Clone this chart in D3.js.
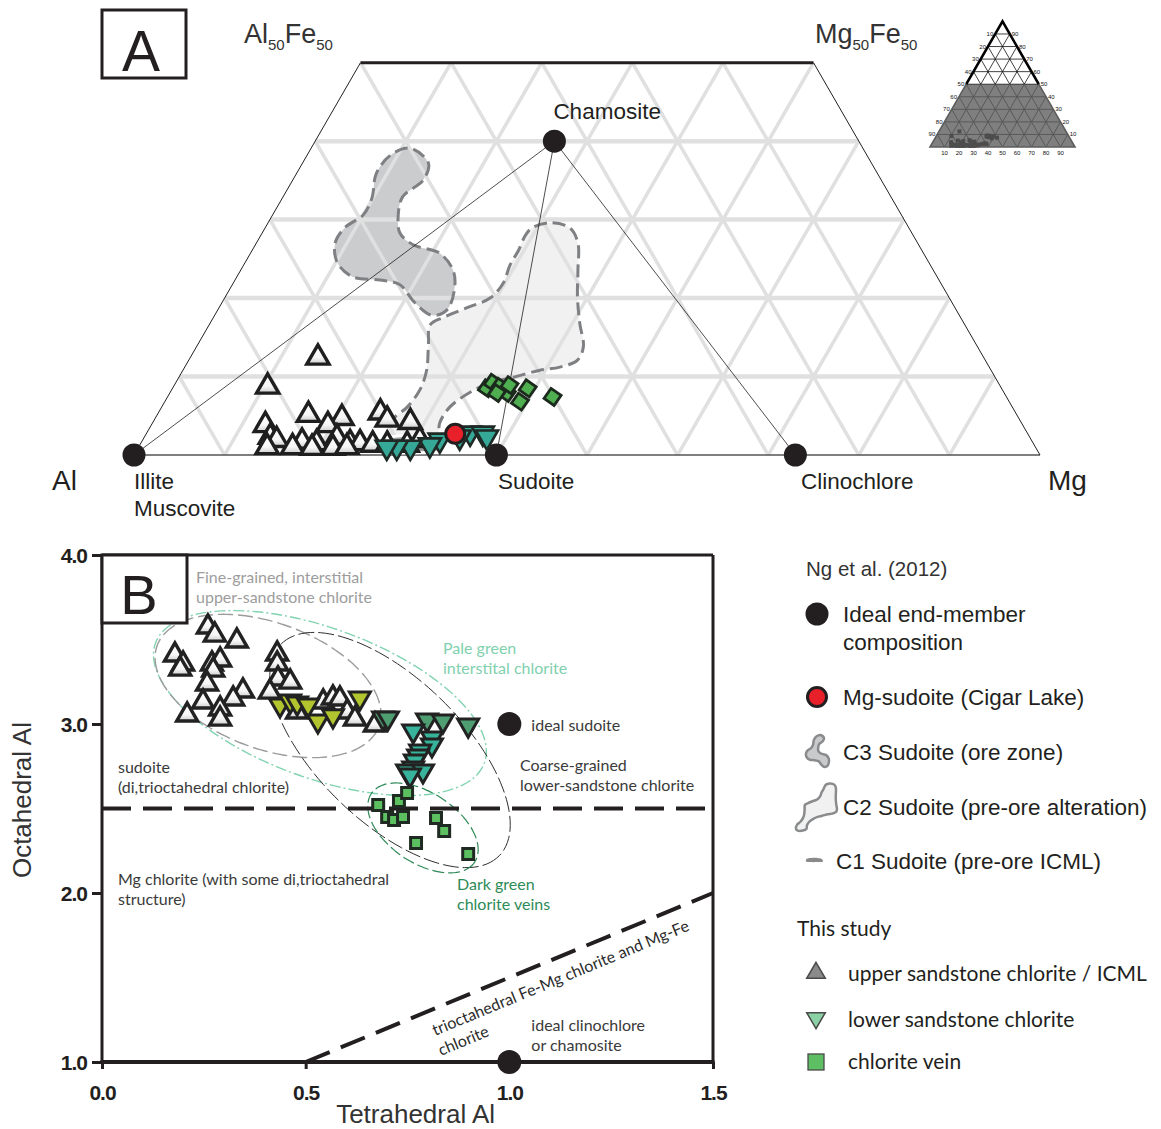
<!DOCTYPE html>
<html>
<head>
<meta charset="utf-8">
<script src="https://cdn.jsdelivr.net/npm/d3@7"></script>
<style>
  body { margin: 0; background: #fff; }
  svg { display: block; }
  .arial { font-family: "Liberation Sans", Arial, sans-serif; }
  .myriad { font-family: Lato, "Open Sans", sans-serif; }
</style>
</head>
<body>
<svg id="fig" width="1161" height="1129"></svg>
<script>
// ================= Panel A data: Al–Mg–Fe compositions as [Mg %, Fe %] (Al = 100 − Mg − Fe)
const endMembers = [
  { name: "Illite", mg: 0, fe: 0 },
  { name: "Sudoite", mg: 40, fe: 0 },
  { name: "Clinochlore", mg: 73, fe: 0 },
  { name: "Chamosite", mg: 26.4, fe: 40 }
];
const tieLines = [["Chamosite", "Illite"], ["Chamosite", "Sudoite"], ["Chamosite", "Clinochlore"]];
const cigarLake = [[34.1, 2.7]];

// Ng et al. (2012) sudoite fields
const c3Outline = [
  [10.9, 39.1], [13.9, 37.2], [14.4, 35.0], [13.2, 32.9], [14.0, 30.3], [15.2, 28.3], [17.4, 26.8],
  [20.9, 25.7], [23.4, 23.6], [24.7, 21.4], [25.3, 18.5], [24.0, 17.8], [21.3, 19.4], [18.5, 21.7],
  [16.0, 22.3], [12.8, 22.7], [10.2, 24.5], [8.7, 27.0], [8.8, 29.0], [10.0, 30.6], [9.9, 32.7],
  [8.8, 35.9], [9.2, 38.2]
];
const c2Outline = [
  [29.5, 29.0], [31.4, 29.6], [33.7, 28.9], [35.5, 27.0], [37.2, 23.6], [38.9, 20.1], [40.8, 16.8],
  [42.7, 13.8], [42.9, 12.1], [41.4, 11.2], [39.4, 10.8], [36.9, 9.9], [34.7, 9.2], [33.1, 8.0],
  [31.8, 6.1], [31.7, 4.1], [32.5, 1.9], [31.1, 0.9], [28.4, 0.9], [27.0, 1.9], [26.3, 4.5],
  [27.1, 6.1], [27.4, 8.3], [26.9, 10.8], [25.5, 14.0], [24.4, 16.6], [25.5, 17.6], [27.6, 18.9],
  [29.3, 20.0], [29.8, 21.9], [29.4, 24.2], [29.4, 26.1], [29.2, 28.0]
];
const c1Outline = [
  [25.7, 1.9], [27.6, 2.4], [30.4, 2.4], [32.5, 1.9], [33.7, 0.6], [31.4, 0.3], [28.1, 0.3], [26.1, 0.6]
];

// this study, ternary
const ternUpper = [
  [14.1, 12.4], [10.4, 8.7], [16.7, 5.1], [12.6, 3.8], [24.5, 5.4], [20.6, 4.7], [19.5, 3.8],
  [25.7, 4.5], [28.4, 4.2], [13.9, 2.3], [14.8, 1.9], [17.7, 1.7], [19.4, 1.5], [21.3, 2.2],
  [23.1, 1.5], [24.2, 1.5], [14.2, 1.0], [17.0, 1.0], [19.2, 0.9], [21.5, 0.9], [23.0, 1.0],
  [25.7, 1.3], [27.3, 1.3], [29.5, 1.3], [30.6, 1.9]
];
const ternLower = [
  [35.7, 2.8], [37.1, 2.8], [37.8, 2.3], [32.8, 1.9], [32.0, 1.3], [30.0, 1.0], [28.5, 1.0],
  [27.4, 1.0], [34.8, 2.3]
];
const ternVein = [
  [34.7, 8.5], [35.0, 9.2], [36.0, 8.7], [37.2, 7.9], [36.1, 7.9], [39.2, 8.5], [39.2, 6.8],
  [42.5, 7.4], [37.0, 8.9]
];
const gridSteps = [10, 20, 30, 40, 50, 60, 70, 80, 90];
const insetTicks = [10, 20, 30, 40, 50, 60, 70, 80, 90];

// ================= Panel B data: tetrahedral Al vs octahedral Al (apfu)
const tetAlTicks = [0, 0.5, 1.0, 1.5];
const octAlTicks = [1, 2, 3, 4];
const upperSandstone = [
  [0.260, 3.586], [0.277, 3.538], [0.331, 3.503], [0.179, 3.420], [0.199, 3.367], [0.192, 3.337],
  [0.270, 3.367], [0.290, 3.391], [0.273, 3.331], [0.258, 3.249], [0.346, 3.207], [0.322, 3.160],
  [0.248, 3.142], [0.290, 3.101], [0.290, 3.041], [0.209, 3.065], [0.430, 3.426], [0.430, 3.367],
  [0.432, 3.278], [0.462, 3.260], [0.412, 3.201], [0.479, 3.083], [0.543, 3.142], [0.567, 3.166],
  [0.584, 3.160], [0.602, 3.083], [0.621, 3.041], [0.670, 3.006]
];
const lowerPale = [
  [0.437, 3.101], [0.462, 3.124], [0.479, 3.112], [0.506, 3.101], [0.530, 3.006], [0.567, 3.036],
  [0.633, 3.142]
];
const lowerGreen = [
  [0.690, 3.024], [0.702, 3.024], [0.798, 3.012], [0.837, 3.006], [0.899, 2.982]
];
const lowerTeal = [
  [0.764, 2.947], [0.810, 2.905], [0.810, 2.864], [0.781, 2.828], [0.776, 2.799], [0.768, 2.769],
  [0.764, 2.728], [0.749, 2.710], [0.788, 2.710], [0.756, 2.686]
];
const veins = [
  [0.678, 2.521], [0.729, 2.544], [0.749, 2.592], [0.700, 2.450], [0.717, 2.432], [0.739, 2.450],
  [0.820, 2.444], [0.840, 2.367], [0.771, 2.296], [0.899, 2.231]
];
const idealPoints = [
  { lines: ["ideal sudoite"], x: 1.0, y: 3.0 },
  { lines: ["ideal clinochlore", "or chamosite"], x: 1.0, y: 1.0 }
];
const sudoiteBoundary = 2.5;
const trioctLine = [[0.5, 1.0], [1.5, 2.0]];
// fields: centre, semi-major and semi-minor vectors (data units)
const fields = [
  { id: "pale", c: [0.535, 3.124], u: [0.4037, -0.3544], v: [-0.0630, -0.4170] },
  { id: "fine", c: [0.4076, 3.225], u: [0.2722, -0.2390], v: [-0.0529, -0.3503] },
  { id: "coarse", c: [0.7071, 2.846], u: [0.2684, -0.6248], v: [-0.1228, -0.3065] },
  { id: "vein", c: [0.788, 2.385], u: [0.1269, -0.2024], v: [-0.0475, -0.1728] }
];

// ================= drawing
const svg = d3.select("#fig");
const defs = svg.append("defs");
const grad = defs.append("linearGradient").attr("id", "upFill").attr("x1", 0).attr("y1", 0).attr("x2", 0).attr("y2", 1);
grad.append("stop").attr("offset", "0%").attr("stop-color", "#ffffff");
grad.append("stop").attr("offset", "65%").attr("stop-color", "#f7f7f7");
grad.append("stop").attr("offset", "100%").attr("stop-color", "#cdcdcd");

const INK = "#231f20";

// ---------- ternary projection
const tx = d3.scaleLinear().domain([0, 100]).range([134, 1040]);          // Mg + Fe/2
const ty = d3.scaleLinear().domain([0, 100]).range([455, 455 - 906 * Math.sqrt(3) / 2]); // Fe
const tern = (mg, fe) => [tx(mg + fe / 2), ty(fe)];
const closedCurve = d3.line().curve(d3.curveCatmullRomClosed.alpha(0.5));

const gA = svg.append("g");

// field fills
gA.append("path").attr("d", closedCurve(c3Outline.map(d => tern(d[0], d[1])))).attr("fill", "#cbcccd");
gA.append("path").attr("d", closedCurve(c2Outline.map(d => tern(d[0], d[1])))).attr("fill", "#f1f1f1");

// grid
const grid = gA.append("g").attr("stroke", "#dfe0df").attr("stroke-width", 3.5).attr("fill", "none");
gridSteps.filter(f => f < 50).forEach(f => {
  const a = tern(0, f), b = tern(100 - f, f);
  grid.append("line").attr("x1", a[0]).attr("y1", a[1]).attr("x2", b[0]).attr("y2", b[1]).attr("stroke-width", 4.5);
});
gridSteps.forEach(m => {
  const feEnd = Math.min(50, 100 - m);
  const a = tern(m, 0), b = tern(m, feEnd);
  grid.append("line").attr("x1", a[0]).attr("y1", a[1]).attr("x2", b[0]).attr("y2", b[1]);
});
gridSteps.forEach(al => {
  const feEnd = Math.min(50, 100 - al);
  const a = tern(100 - al, 0), b = tern(100 - al - feEnd, feEnd);
  grid.append("line").attr("x1", a[0]).attr("y1", a[1]).attr("x2", b[0]).attr("y2", b[1]);
});

// field outlines
gA.append("path").attr("d", closedCurve(c3Outline.map(d => tern(d[0], d[1]))))
  .attr("fill", "none").attr("stroke", "#7f8083").attr("stroke-width", 3).attr("stroke-dasharray", "13 6");
gA.append("path").attr("d", closedCurve(c2Outline.map(d => tern(d[0], d[1]))))
  .attr("fill", "none").attr("stroke", "#7f8083").attr("stroke-width", 3).attr("stroke-dasharray", "13 6");

// trapezoid frame
{
  const bl = tern(0, 0), br = tern(100, 0), tl = tern(0, 50), tr = tern(50, 50);
  gA.append("line").attr("x1", bl[0]).attr("y1", bl[1]).attr("x2", br[0]).attr("y2", br[1]).attr("stroke", "#555").attr("stroke-width", 1.5);
  gA.append("line").attr("x1", bl[0]).attr("y1", bl[1]).attr("x2", tl[0]).attr("y2", tl[1]).attr("stroke", INK).attr("stroke-width", 1);
  gA.append("line").attr("x1", br[0]).attr("y1", br[1]).attr("x2", tr[0]).attr("y2", tr[1]).attr("stroke", INK).attr("stroke-width", 1);
  gA.append("line").attr("x1", tl[0]).attr("y1", tl[1]).attr("x2", tr[0]).attr("y2", tr[1]).attr("stroke", INK).attr("stroke-width", 3);
}

// tie lines from chamosite
const emByName = Object.fromEntries(endMembers.map(d => [d.name, d]));
tieLines.forEach(([p, q]) => {
  const a = tern(emByName[p].mg, emByName[p].fe), b = tern(emByName[q].mg, emByName[q].fe);
  gA.append("line").attr("x1", a[0]).attr("y1", a[1]).attr("x2", b[0]).attr("y2", b[1])
    .attr("stroke", INK).attr("stroke-width", 0.8);
});

// end-members
gA.selectAll("circle.em").data(endMembers).join("circle").attr("class", "em")
  .attr("cx", d => tern(d.mg, d.fe)[0]).attr("cy", d => tern(d.mg, d.fe)[1]).attr("r", 11.5).attr("fill", INK);

const triUp = d3.symbol().type(d3.symbolTriangle).size(215)();
const triDown = triUp;
const sq = d3.symbol().type(d3.symbolSquare).size(150)();

// C1 field sits behind the markers
gA.append("path").attr("d", closedCurve(c1Outline.map(d => tern(d[0], d[1]))))
  .attr("fill", "#9a9a9a").attr("stroke", "#fff").attr("stroke-width", 3);

gA.selectAll("path.tu").data(ternUpper).join("path").attr("class", "tu").attr("d", triUp)
  .attr("transform", d => `translate(${tern(d[0], d[1])})`)
  .attr("fill", "url(#upFill)").attr("stroke", "#1f1f1f").attr("stroke-width", 3.4).attr("stroke-linejoin", "miter");
gA.selectAll("path.tl").data(ternLower).join("path").attr("class", "tl").attr("d", triDown)
  .attr("transform", d => `translate(${tern(d[0], d[1])}) rotate(180)`)
  .attr("fill", "#35a898").attr("stroke", "#1f2a26").attr("stroke-width", 2.6);
gA.selectAll("path.tv").data(ternVein).join("path").attr("class", "tv").attr("d", sq)
  .attr("transform", d => `translate(${tern(d[0], d[1])}) rotate(35)`)
  .attr("fill", "#4fae4f").attr("stroke", "#1c2a1e").attr("stroke-width", 2.8);
gA.selectAll("circle.cl").data(cigarLake).join("circle").attr("class", "cl")
  .attr("cx", d => tern(d[0], d[1])[0]).attr("cy", d => tern(d[0], d[1])[1]).attr("r", 9.5)
  .attr("fill", "#e8202a").attr("stroke", INK).attr("stroke-width", 3);

// labels panel A
const labA = gA.append("g").attr("class", "arial").attr("fill", INK);
labA.append("text").attr("x", tern(26.4, 40)[0] - 1).attr("y", 119).attr("font-size", 22.5).text("Chamosite");
labA.append("text").attr("x", 134).attr("y", 489).attr("font-size", 22.5).text("Illite");
labA.append("text").attr("x", 134).attr("y", 516).attr("font-size", 22.5).text("Muscovite");
labA.append("text").attr("x", 498).attr("y", 489).attr("font-size", 22.5).text("Sudoite");
labA.append("text").attr("x", 801).attr("y", 489).attr("font-size", 22.5).text("Clinochlore");
labA.append("text").attr("x", 52).attr("y", 490).attr("font-size", 28).text("Al");
labA.append("text").attr("x", 1048).attr("y", 490).attr("font-size", 28).text("Mg");
function subLabel(x, a, b) {
  const t = labA.append("text").attr("x", x).attr("y", 43).attr("font-size", 27).attr("fill", "#333");
  t.append("tspan").text(a);
  t.append("tspan").attr("font-size", 15).attr("dy", 7).text("50");
  t.append("tspan").attr("dy", -7).text(b);
  t.append("tspan").attr("font-size", 15).attr("dy", 7).text("50");
}
subLabel(244, "Al", "Fe");
subLabel(815, "Mg", "Fe");
// panel letter
gA.append("rect").attr("x", 102).attr("y", 10).attr("width", 84).attr("height", 68)
  .attr("fill", "#fff").attr("stroke", INK).attr("stroke-width", 3);
gA.append("text").attr("class", "arial").attr("x", 141).attr("y", 71).attr("text-anchor", "middle")
  .attr("font-size", 57).attr("fill", INK).text("A");

// ---------- inset: full ternary with the enlarged part shaded
{
  const ix = d3.scaleLinear().domain([0, 100]).range([930, 1075]);
  const iy = d3.scaleLinear().domain([0, 100]).range([147, 147 - 145 * Math.sqrt(3) / 2]);
  const ip = (mg, fe) => [ix(mg + fe / 2), iy(fe)];
  const gI = svg.append("g");
  const trap = [ip(0, 0), ip(100, 0), ip(50, 50), ip(0, 50)];
  gI.append("path").attr("d", "M" + trap.join("L") + "Z").attr("fill", "#7f7f7f");
  const gl = gI.append("g").attr("fill", "none");
  insetTicks.forEach(v => {
    const col = v < 50 ? "#555" : "#111";
    let a = ip(0, v), b = ip(100 - v, v);
    gl.append("line").attr("x1", a[0]).attr("y1", a[1]).attr("x2", b[0]).attr("y2", b[1]).attr("stroke", col).attr("stroke-width", v < 50 ? 0.9 : 0.8);
  });
  // constant-Mg and constant-Al lines, split at the 50 % level for colour
  insetTicks.forEach(m => {
    const top = 100 - m;
    const mid = Math.min(50, top);
    let a = ip(m, 0), b = ip(m, mid);
    gl.append("line").attr("x1", a[0]).attr("y1", a[1]).attr("x2", b[0]).attr("y2", b[1]).attr("stroke", "#555").attr("stroke-width", 0.9);
    if (top > 50) { a = ip(m, 50); b = ip(m, top); gl.append("line").attr("x1", a[0]).attr("y1", a[1]).attr("x2", b[0]).attr("y2", b[1]).attr("stroke", "#111").attr("stroke-width", 0.8); }
    const al = m;
    a = ip(100 - al, 0); b = ip(100 - al - mid, mid);
    gl.append("line").attr("x1", a[0]).attr("y1", a[1]).attr("x2", b[0]).attr("y2", b[1]).attr("stroke", "#555").attr("stroke-width", 0.9);
    if (top > 50) { a = ip(100 - al - 50, 50); b = ip(0, top); gl.append("line").attr("x1", a[0]).attr("y1", a[1]).attr("x2", b[0]).attr("y2", b[1]).attr("stroke", "#111").attr("stroke-width", 0.8); }
  });
  // outline
  const up = [ip(0, 50), ip(0, 100), ip(50, 50)];
  gI.append("path").attr("d", "M" + up.join("L")).attr("fill", "none").attr("stroke", "#000").attr("stroke-width", 2.6).attr("stroke-linejoin", "miter");
  const low = [ip(0, 50), ip(0, 0), ip(100, 0), ip(50, 50)];
  gI.append("path").attr("d", "M" + low.join("L")).attr("fill", "none").attr("stroke", "#5d5d5d").attr("stroke-width", 1.6);
  // study data in miniature
  gI.selectAll("rect.mini").data([...ternUpper, ...ternLower, ...ternVein]).join("rect").attr("class", "mini")
    .attr("x", d => ip(d[0], d[1])[0] - 2).attr("y", d => ip(d[0], d[1])[1] - 2).attr("width", 4).attr("height", 4)
    .attr("fill", "#4d4d4d");
  const tl = gI.append("g").attr("class", "arial").attr("font-size", 6).attr("fill", "#111");
  insetTicks.forEach(v => {
    let p = ip(0, 100 - v);
    tl.append("text").attr("x", p[0] - 2).attr("y", p[1] + 2).attr("text-anchor", "end").text(v);
    p = ip(100 - v, v);
    tl.append("text").attr("x", p[0] + 2).attr("y", p[1] + 2).text(v);
    p = ip(v, 0);
    tl.append("text").attr("x", p[0]).attr("y", p[1] + 8).attr("text-anchor", "middle").text(v);
  });
}

// ---------- Panel B
const bx = d3.scaleLinear().domain([0, 1.5]).range([102, 713]);
const by = d3.scaleLinear().domain([1, 4]).range([1062, 555]);
const gB = svg.append("g");

// fields
const ellipsePts = f => d3.range(0, 360, 3).map(t => {
  const r = t * Math.PI / 180;
  return [bx(f.c[0] + Math.cos(r) * f.u[0] + Math.sin(r) * f.v[0]),
          by(f.c[1] + Math.cos(r) * f.u[1] + Math.sin(r) * f.v[1])];
});
const fieldStyle = {
  pale: { stroke: "#82d3b0", w: 1.4, dash: "11 3 2 3" },
  fine: { stroke: "#9c9c9c", w: 1.4, dash: "15 5" },
  coarse: { stroke: "#2e2e2e", w: 1.0, dash: "16 4" },
  vein: { stroke: "#2f8a58", w: 1.2, dash: "12 4" }
};
gB.selectAll("path.field").data(fields).join("path").attr("class", "field")
  .attr("d", f => closedCurve(ellipsePts(f))).attr("fill", "none")
  .attr("stroke", f => fieldStyle[f.id].stroke).attr("stroke-width", f => fieldStyle[f.id].w)
  .attr("stroke-dasharray", f => fieldStyle[f.id].dash);

// boundaries
gB.append("line").attr("x1", bx(0)).attr("x2", bx(1.5)).attr("y1", by(sudoiteBoundary)).attr("y2", by(sudoiteBoundary))
  .attr("stroke", INK).attr("stroke-width", 4).attr("stroke-dasharray", "29 12");
gB.append("line").attr("x1", bx(trioctLine[0][0])).attr("y1", by(trioctLine[0][1]))
  .attr("x2", bx(trioctLine[1][0])).attr("y2", by(trioctLine[1][1]))
  .attr("stroke", INK).attr("stroke-width", 4).attr("stroke-dasharray", "26 12");

// axes
const axL = gB.append("g").attr("transform", `translate(${bx(0)},0)`)
  .call(d3.axisLeft(by).tickValues(octAlTicks).tickFormat(d3.format(".1f")).tickSize(10).tickPadding(5));
const axB = gB.append("g").attr("transform", `translate(0,${by(1)})`)
  .call(d3.axisBottom(bx).tickValues(tetAlTicks).tickFormat(d3.format(".1f")).tickSize(7).tickPadding(16));
[axL, axB].forEach(ax => {
  ax.attr("font-size", null).attr("font-family", null);
  ax.select(".domain").remove();
  ax.selectAll(".tick line").attr("stroke", INK).attr("stroke-width", 3);
  ax.selectAll(".tick text")
    .style("font-family", "'Liberation Sans', Arial, sans-serif").style("font-weight", "bold")
    .style("font-size", "21px").style("letter-spacing", "-1px").attr("fill", INK);
});
axL.selectAll(".tick text").attr("dy", "0.36em");
gB.append("line").attr("x1", bx(0)).attr("x2", bx(0)).attr("y1", by(4)).attr("y2", by(1)).attr("stroke", INK).attr("stroke-width", 3);
gB.append("line").attr("x1", bx(1.5)).attr("x2", bx(1.5)).attr("y1", by(4)).attr("y2", by(1)).attr("stroke", INK).attr("stroke-width", 3);
gB.append("line").attr("x1", bx(0)).attr("x2", bx(1.5)).attr("y1", by(4)).attr("y2", by(4)).attr("stroke", INK).attr("stroke-width", 3);
gB.append("line").attr("x1", bx(0) - 1.5).attr("x2", bx(1.5) + 1.5).attr("y1", by(1)).attr("y2", by(1)).attr("stroke", INK).attr("stroke-width", 4);

// ideal compositions
gB.selectAll("circle.ideal").data(idealPoints).join("circle").attr("class", "ideal")
  .attr("cx", d => bx(d.x)).attr("cy", d => by(d.y)).attr("r", 12).attr("fill", INK);

// data markers
const triB = d3.symbol().type(d3.symbolTriangle).size(190)();
const sqB = d3.symbol().type(d3.symbolSquare).size(120)();
gB.selectAll("path.up").data(upperSandstone).join("path").attr("class", "up").attr("d", triB)
  .attr("transform", d => `translate(${bx(d[0])},${by(d[1]) + 2})`)
  .attr("fill", "url(#upFill)").attr("stroke", "#222").attr("stroke-width", 3.4);
const lowerGroups = [
  { data: lowerPale, fill: "#b2c52e" },
  { data: lowerGreen, fill: "#4f9e72" },
  { data: lowerTeal, fill: "#37b39b" }
];
lowerGroups.forEach((g, i) => {
  gB.selectAll("path.low" + i).data(g.data).join("path").attr("class", "low" + i).attr("d", triB)
    .attr("transform", d => `translate(${bx(d[0])},${by(d[1]) - 2}) rotate(180)`)
    .attr("fill", g.fill).attr("stroke", "#222").attr("stroke-width", 3);
});
gB.selectAll("path.vein").data(veins).join("path").attr("class", "vein").attr("d", sqB)
  .attr("transform", d => `translate(${bx(d[0])},${by(d[1])})`)
  .attr("fill", "#5cbf60").attr("stroke", "#1f2a22").attr("stroke-width", 3);

// annotations
const ann = gB.append("g").attr("class", "myriad").attr("font-size", 16);
const note = (x, y, lines, col) => lines.forEach((s, i) =>
  ann.append("text").attr("x", x).attr("y", y + i * 20).attr("fill", col).text(s));
note(196, 583, ["Fine-grained, interstitial", "upper-sandstone chlorite"], "#9d9d9d");
note(443, 654, ["Pale green", "interstital chlorite"], "#80d1ae");
note(520, 771, ["Coarse-grained", "lower-sandstone chlorite"], "#3a3a3a");
note(118, 773, ["sudoite", "(di,trioctahedral chlorite)"], "#3a3a3a");
note(118, 885, ["Mg chlorite (with some di,trioctahedral", "structure)"], "#3a3a3a");
note(457, 890, ["Dark green", "chlorite veins"], "#2e8b57");
idealPoints.forEach(d => note(bx(d.x) + 22, by(d.y) + (d.lines.length > 1 ? -31 : 7), d.lines, "#3a3a3a"));
{
  const ang = Math.atan2(by(trioctLine[1][1]) - by(trioctLine[0][1]), bx(trioctLine[1][0]) - bx(trioctLine[0][0])) * 180 / Math.PI;
  ann.append("text").attr("transform", `translate(435,1036) rotate(${ang})`).attr("fill", "#2a2a2a")
    .text("trioctahedral Fe-Mg chlorite and Mg-Fe");
  ann.append("text").attr("transform", `translate(441,1056) rotate(${ang})`).attr("fill", "#2a2a2a")
    .text("chlorite");
}

// axis titles
gB.append("text").attr("class", "arial").attr("transform", `translate(31,${by(2.55)}) rotate(-90)`)
  .attr("text-anchor", "middle").attr("font-size", 26).attr("fill", "#333").text("Octahedral Al");
gB.append("text").attr("class", "arial").attr("x", bx(0.77)).attr("y", 1123)
  .attr("text-anchor", "middle").attr("font-size", 26).attr("fill", "#333").text("Tetrahedral Al");

// panel letter
gB.append("rect").attr("x", 102).attr("y", 555).attr("width", 85).attr("height", 68)
  .attr("fill", "#fff").attr("stroke", INK).attr("stroke-width", 3);
gB.append("text").attr("class", "arial").attr("x", 139).attr("y", 614).attr("text-anchor", "middle")
  .attr("font-size", 56).attr("fill", INK).text("B");

// ---------- legend
const gL = svg.append("g");
function fitOutline(outline, box) {
  const pts = outline.map(d => tern(d[0], d[1]));
  const [x0, x1] = d3.extent(pts, p => p[0]), [y0, y1] = d3.extent(pts, p => p[1]);
  const k = Math.min(box.w / (x1 - x0), box.h / (y1 - y0));
  const ox = box.x + (box.w - k * (x1 - x0)) / 2, oy = box.y + (box.h - k * (y1 - y0)) / 2;
  return pts.map(p => [ox + k * (p[0] - x0), oy + k * (p[1] - y0)]);
}
const la = gL.append("g").attr("class", "arial").attr("font-size", 22.5).attr("fill", INK);
la.append("text").attr("x", 806).attr("y", 576).attr("font-size", 20.5).attr("fill", "#333").text("Ng et al. (2012)");
gL.append("circle").attr("cx", 817).attr("cy", 614).attr("r", 11.5).attr("fill", INK);
la.append("text").attr("x", 843).attr("y", 622).text("Ideal end-member");
la.append("text").attr("x", 843).attr("y", 650).text("composition");
gL.append("circle").attr("cx", 817).attr("cy", 697).attr("r", 9.5).attr("fill", "#e8202a").attr("stroke", INK).attr("stroke-width", 3);
la.append("text").attr("x", 843).attr("y", 705).text("Mg-sudoite (Cigar Lake)");
gL.append("path").attr("d", closedCurve(fitOutline(c3Outline, { x: 805, y: 735, w: 25, h: 32 })))
  .attr("fill", "#c9cacc").attr("stroke", "#8a8b8d").attr("stroke-width", 2.5);
la.append("text").attr("x", 843).attr("y", 760).text("C3 Sudoite (ore zone)");
gL.append("path").attr("d", closedCurve(fitOutline(c2Outline, { x: 796, y: 783, w: 41, h: 48 })))
  .attr("fill", "#f1f1f1").attr("stroke", "#8a8b8d").attr("stroke-width", 2.5);
la.append("text").attr("x", 843).attr("y", 815).text("C2 Sudoite (pre-ore alteration)");
gL.append("path").attr("d", closedCurve(fitOutline(c1Outline, { x: 806, y: 856, w: 17, h: 8 })))
  .attr("fill", "#8a8a8a");
la.append("text").attr("x", 836).attr("y", 869).text("C1 Sudoite (pre-ore ICML)");

const lb = gL.append("g").attr("class", "myriad").attr("font-size", 21).attr("fill", INK);
lb.append("text").attr("x", 797).attr("y", 936).text("This study");
const triL = d3.symbol().type(d3.symbolTriangle).size(150)();
gL.append("path").attr("d", triL).attr("transform", "translate(816,973)").attr("fill", "#8a8a8a").attr("stroke", "#4a4a4a").attr("stroke-width", 1.5);
lb.append("text").attr("x", 848).attr("y", 981).text("upper sandstone chlorite / ICML");
gL.append("path").attr("d", triL).attr("transform", "translate(816,1018) rotate(180)").attr("fill", "#8bd1a5").attr("stroke", "#4a4a4a").attr("stroke-width", 1.5);
lb.append("text").attr("x", 848).attr("y", 1027).text("lower sandstone chlorite");
gL.append("rect").attr("x", 808).attr("y", 1054).attr("width", 16).attr("height", 16).attr("fill", "#5dbe63").attr("stroke", "#4a4a4a").attr("stroke-width", 1.3);
lb.append("text").attr("x", 848).attr("y", 1069).text("chlorite vein");
</script>
</body>
</html>
